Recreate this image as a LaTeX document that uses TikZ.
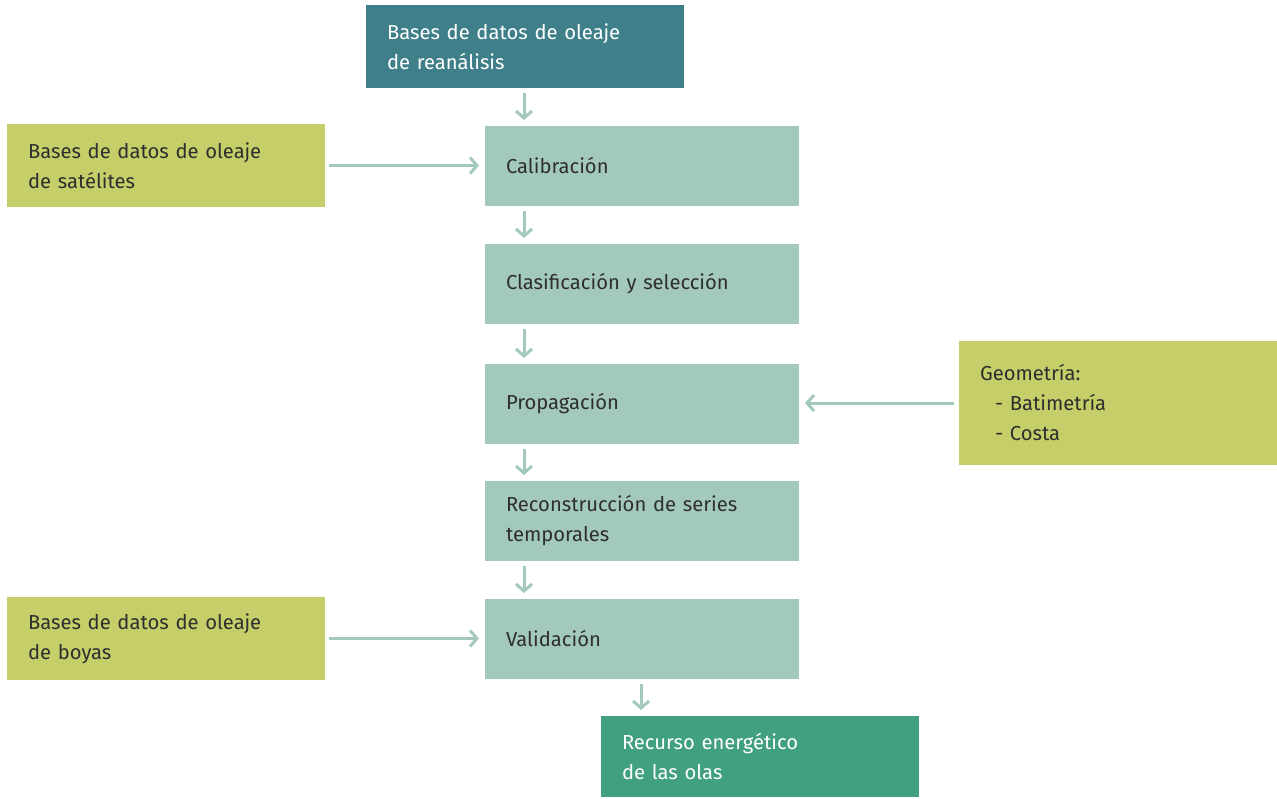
\documentclass[tikz,border=0pt]{standalone}
\usepackage{fontspec}
\setmainfont{Fira Sans}
\usetikzlibrary{arrows.meta}
\definecolor{cteal}{HTML}{3F7F89}
\definecolor{cmint}{HTML}{A3C9BB}
\definecolor{colive}{HTML}{C5CE69}
\definecolor{cgreen}{HTML}{41A080}
\definecolor{ctext}{HTML}{2E2E2E}
\tikzset{
  box/.style={rectangle, outer sep=0pt, inner xsep=21pt, inner ysep=0pt,
    align=left, font=\fontsize{20.2}{30}\selectfont, anchor=north west},
  stepbox/.style={box, fill=cmint, text=ctext, minimum width=314pt, minimum height=80pt, text width=272pt},
  sidebox/.style={box, fill=colive, text=ctext, minimum width=318pt, text width=276pt},
  endbox/.style={box, text=white, minimum width=318pt, minimum height=83pt, text width=276pt},
  arr/.style={draw=cmint, line width=3pt, -{Straight Barb[length=7pt,width=16pt,line width=3pt]}}
}
\begin{document}
\begin{tikzpicture}[x=1pt,y=-1pt]
\useasboundingbox (0,0) rectangle (1277,798);
\node[endbox, fill=cteal] (rea) at (366,5) {Bases de datos de oleaje\\de reanálisis};
\node[stepbox] (cal) at (485,126) {Calibración};
\node[stepbox] (cls) at (485,244) {Clasificación y selección};
\node[stepbox] (pro) at (485,364) {Propagación};
\node[stepbox] (rec) at (485,481) {Reconstrucción de series\\temporales};
\node[stepbox] (val) at (485,599) {Validación};
\node[endbox, fill=cgreen, minimum height=81pt] (res) at (601,716) {Recurso energético\\de las olas};
\node[sidebox, minimum height=83pt] (sat) at (7,124) {Bases de datos de oleaje\\de satélites};
\node[sidebox, minimum height=124pt] (geo) at (959,341) {Geometría:\\\hspace*{15pt}- Batimetría\\\hspace*{15pt}- Costa};
\node[sidebox, minimum height=83pt] (boy) at (7,597) {Bases de datos de oleaje\\de boyas};

\draw[arr, shorten <=5pt, shorten >=6pt] ([xshift=158pt]rea.south west) -- ([xshift=158pt]rea.south west |- cal.north);
\draw[arr, shorten <=5pt, shorten >=6pt] ([xshift=39pt]cal.south west) -- ([xshift=39pt]cal.south west |- cls.north);
\draw[arr, shorten <=5pt, shorten >=6pt] ([xshift=39pt]cls.south west) -- ([xshift=39pt]cls.south west |- pro.north);
\draw[arr, shorten <=5pt, shorten >=6pt] ([xshift=39pt]pro.south west) -- ([xshift=39pt]pro.south west |- rec.north);
\draw[arr, shorten <=5pt, shorten >=6pt] ([xshift=39pt]rec.south west) -- ([xshift=39pt]rec.south west |- val.north);
\draw[arr, shorten <=5pt, shorten >=6pt] ([xshift=156pt]val.south west) -- ([xshift=156pt]val.south west |- res.north);
\draw[arr, shorten <=4pt, shorten >=6pt] (sat.east) -- (sat.east -| cal.west);
\draw[arr, shorten <=5pt, shorten >=6pt] (geo.west) -- (geo.west -| pro.east);
\draw[arr, shorten <=4pt, shorten >=6pt] (boy.east) -- (boy.east -| val.west);
\end{tikzpicture}
\end{document}
